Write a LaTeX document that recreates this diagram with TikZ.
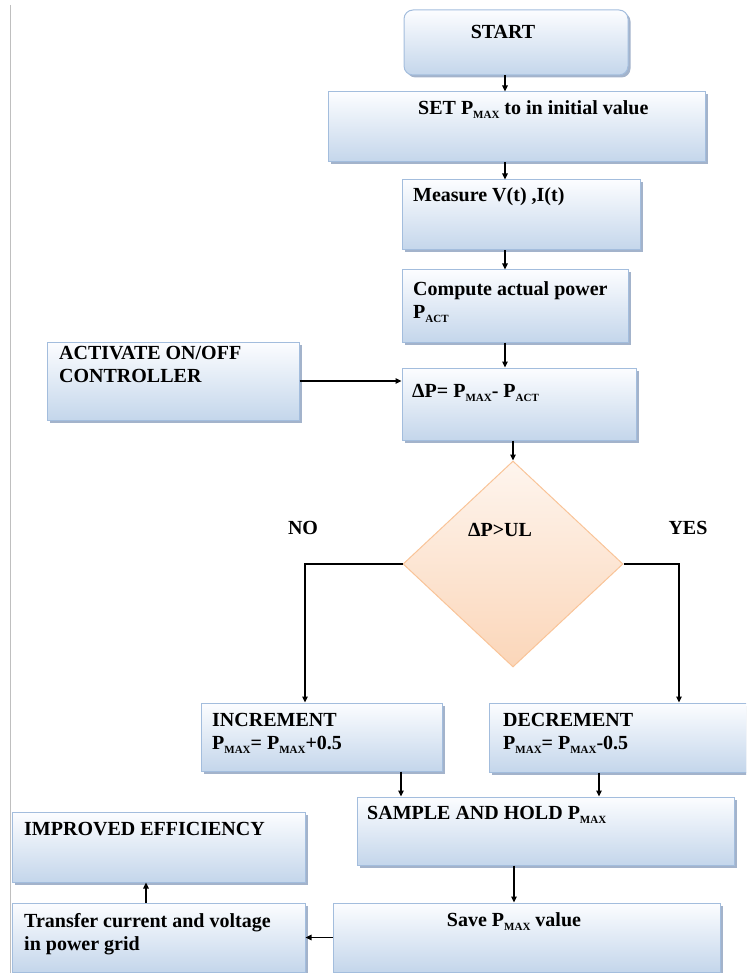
\documentclass[tikz,border=0pt]{standalone}
\usepackage{fontspec}
\setmainfont{Liberation Serif}
\usepackage{tikz}
\usetikzlibrary{calc,arrows.meta,shadows,shapes.geometric}

\definecolor{boxtop}{RGB}{252,253,255}
\definecolor{boxbot}{RGB}{196,214,235}
\definecolor{boxline}{RGB}{163,189,221}
\definecolor{boxshade}{RGB}{140,160,190}
\definecolor{diatop}{RGB}{254,245,238}
\definecolor{diabot}{RGB}{251,214,185}
\definecolor{dialine}{RGB}{249,196,152}
\newcommand\lowsub[1]{\raisebox{-4pt}{\fontsize{11}{11}\selectfont #1}}

\tikzset{
	box/.style={draw=boxline, line width=1pt, top color=boxtop, bottom color=boxbot, inner sep=0,
		drop shadow={shadow xshift=2.5pt, shadow yshift=-2.5pt, fill=boxshade, opacity=0.8}},
	startbox/.style={box, rounded corners=9pt},
	decision/.style={diamond, draw=dialine, line width=1pt, top color=diatop, bottom color=diabot, inner sep=0},
	txt/.style={inner sep=0, font=\fontsize{20}{23}\selectfont\bfseries, align=left},
	arr/.style={line width=1.2pt, -{Triangle[length=6pt,width=5.5pt]}}
}

\begin{document}
\begin{tikzpicture}[x=1pt, y=-1pt]
			%%%%% START %%%%%
			\useasboundingbox (0,0) rectangle (746,973);
			\clip (0,0) rectangle (746,973);
			\draw[line width=1pt, black!25] (10,5) -- (10,973);
			
			% main column
			\node[startbox, minimum width=224, minimum height=65] (start) at (516,42.5) {};
			\node[box, minimum width=377, minimum height=70] (set) at (516.5,127) {};
			\node[box, minimum width=238, minimum height=70] (meas) at (521,215) {};
			\node[box, minimum width=226, minimum height=72] (comp) at (515,306) {};
			\node[box, minimum width=234, minimum height=72] (dp) at (519,404) {};
			\node[box, minimum width=252, minimum height=78] (act) at (173,381) {};
			\node[decision, minimum width=220, minimum height=206] (dia) at (513,564) {};
			
			% branches
			\node[box, minimum width=241, minimum height=68] (inc) at (321.5,737) {};
			\node[box, minimum width=271, minimum height=69] (dec) at (624.5,737.5) {};
			\node[box, minimum width=377, minimum height=68] (samp) at (545.5,831) {};
			\node[box, minimum width=293, minimum height=70] (impr) at (158.5,847) {};
			\node[box, minimum width=293, minimum height=69] (tran) at (158.5,937.5) {};
			\node[box, minimum width=387, minimum height=69] (save) at (526.5,937.5) {};
			
			% texts
			\node[txt] (tstart) at (503,32) {START};
			\node[txt, anchor=west] (tset) at (418,110) {SET P\lowsub{MAX} to in initial value};
			\node[txt, anchor=west] (tmeas) at (413,197) {Measure V(t) ,I(t)};
			\node[txt, anchor=north west] (tcomp) at (413,281) {Compute actual power\\P\lowsub{ACT}};
			\node[txt, anchor=west] (tdp) at (412,393) {ΔP= P\lowsub{MAX}- P\lowsub{ACT}};
			\node[txt, anchor=north west] (tact) at (59,346) {ACTIVATE ON/OFF\\CONTROLLER};
			\node[txt] (tcond) at (500,530) {ΔP>UL};
			\node[txt] (tno) at (303,528) {NO};
			\node[txt] (tyes) at (688,528) {YES};
			\node[txt, anchor=north west] (tinc) at (212,713) {INCREMENT\\P\lowsub{MAX}= P\lowsub{MAX}+0.5};
			\node[txt, anchor=north west] (tdec) at (503,713) {DECREMENT\\P\lowsub{MAX}= P\lowsub{MAX}-0.5};
			\node[txt, anchor=west] (tsamp) at (367,815) {SAMPLE AND HOLD P\lowsub{MAX}};
			\node[txt, anchor=west] (timpr) at (24,829) {IMPROVED EFFICIENCY};
			\node[txt, anchor=north west] (ttran) at (24,913) {Transfer current and voltage\\in power grid};
			\node[txt] (tsave) at (514,922) {Save P\lowsub{MAX} value};
			
			% connectors
			\draw[arr] (505,0 |- start.south) -- (505,0 |- set.north);
			\draw[arr] (505,0 |- set.south) -- (505,0 |- meas.north);
			\draw[arr] (505,0 |- meas.south) -- (505,0 |- comp.north);
			\draw[arr] (505,0 |- comp.south) -- (505,0 |- dp.north);
			\draw[arr] (act.east) -- (act.east -| dp.west);
			\draw[arr] (dia.north |- dp.south) -- (dia.north);
			\draw[arr] (dia.west) -| (305,0 |- inc.north);
			\draw[arr] (dia.east) -| (679,0 |- dec.north);
			\draw[arr] (401,0 |- inc.south) -- (401,0 |- samp.north);
			\draw[arr] (599,0 |- dec.south) -- (599,0 |- samp.north);
			\draw[arr] (514,0 |- samp.south) -- (514,0 |- save.north);
			\draw[arr] (save.west) -- (tran.east);
			\draw[arr] (146,0 |- tran.north) -- (146,0 |- impr.south);
			%%%%% END %%%%%
\end{tikzpicture}
\end{document}
